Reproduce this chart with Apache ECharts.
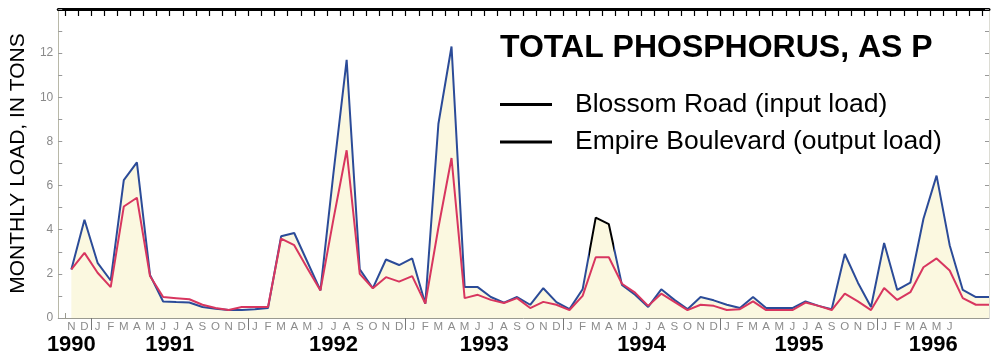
<!DOCTYPE html>
<html>
<head>
<meta charset="utf-8">
<title>Total phosphorus, as P</title>
<script src="https://cdn.jsdelivr.net/npm/echarts@6/dist/echarts.min.js"></script>
<style>
  html, body { margin: 0; padding: 0; background: #fff; }
  #main { width: 996px; height: 358px; }
</style>
</head>
<body>
<div id="main"></div>
<script>
// month index 0 = January 1991, data runs Nov 1990 .. Sep 1996
var monthLetters = ['J', 'F', 'M', 'A', 'M', 'J', 'J', 'A', 'S', 'O', 'N', 'D'];
var firstMonth = -2;      // Nov 1990
var lastLetterMonth = 65; // Jun 1996 is the last lettered month
var yearLabels = ['1990', '1991', '1992', '1993', '1994', '1995', '1996'];
var yearLabelAt = [-1.5, 6, 18.5, 30, 42, 54, 64.25];
var yearStarts = [0, 12, 24, 36, 48, 60];

// monthly load, in tons
var blossomRoad = [2.2, 4.45,
  2.5, 1.7, 6.25, 7.05, 1.95, 0.75, 0.72, 0.7, 0.5, 0.42, 0.36, 0.36,
  0.4, 0.45, 3.7, 3.85, 2.55, 1.25, 6.6, 11.7, 2.2, 1.35, 2.65, 2.4,
  2.7, 0.65, 8.8, 12.3, 1.4, 1.4, 0.95, 0.7, 0.95, 0.6, 1.35, 0.72,
  0.4, 1.3, 4.55, 4.25, 1.5, 1.05, 0.5, 1.3, 0.82, 0.4, 0.95, 0.8,
  0.6, 0.45, 0.95, 0.45, 0.45, 0.45, 0.75, 0.55, 0.4, 2.9, 1.6, 0.5,
  3.4, 1.27, 1.6, 4.5, 6.45, 3.3, 1.27, 0.95, 0.95];
var empireBlvd = [2.2, 2.95,
  2.05, 1.4, 5.05, 5.45, 1.9, 0.95, 0.9, 0.85, 0.6, 0.45, 0.36, 0.5,
  0.5, 0.5, 3.6, 3.3, 2.25, 1.25, 4.5, 7.6, 2.0, 1.35, 1.85, 1.65,
  1.9, 0.65, 4.1, 7.25, 0.9, 1.05, 0.82, 0.68, 0.9, 0.45, 0.73, 0.6,
  0.36, 1.0, 2.75, 2.75, 1.55, 1.15, 0.55, 1.1, 0.73, 0.36, 0.6, 0.55,
  0.36, 0.4, 0.75, 0.36, 0.36, 0.36, 0.7, 0.55, 0.36, 1.1, 0.75, 0.36,
  1.36, 0.82, 1.17, 2.3, 2.7, 2.15, 0.9, 0.6, 0.6];

var fontFam = "'Liberation Sans', Arial, sans-serif";
var xMin = firstMonth - 0.5;
var xMax = firstMonth + blossomRoad.length - 0.5;

var monthBounds = [];
var monthCenters = [];
for (var m = firstMonth; m <= firstMonth + blossomRoad.length; m++) {
  monthBounds.push(m);
  if (m <= lastLetterMonth) monthCenters.push(m + 0.5);
}

function toPoints(arr) {
  return arr.map(function (v, i) { return [firstMonth + i + 0.5, v]; });
}

var chartDom = document.getElementById('main');
var myChart = echarts.init(chartDom, null, { renderer: 'canvas' });

var option = {
  animation: false,
  textStyle: { fontFamily: fontFam },
  grid: { left: 54, right: 7, top: 9, bottom: 40 },
  title: {
    text: 'TOTAL PHOSPHORUS, AS P',
    left: 500, top: 32, padding: 0,
    textStyle: { fontSize: 32, fontWeight: 'bold', color: '#000', fontFamily: fontFam }
  },
  legend: {
    orient: 'vertical', left: 500, top: 91, padding: 0,
    icon: 'rect', itemWidth: 52, itemHeight: 3, itemGap: 10.5,
    selectedMode: false,
    textStyle: { fontSize: 26.5, color: '#000', fontFamily: fontFam, padding: [0, 0, 0, 18] },
    data: [
      { name: 'Blossom Road (input load)', itemStyle: { color: '#000' } },
      { name: 'Empire Boulevard (output load)', itemStyle: { color: '#000' } }
    ]
  },
  visualMap: {
    show: false, type: 'piecewise', seriesIndex: 0, dimension: 0,
    pieces: [
      { lt: 38, color: '#2b4b98' },
      { gte: 38, lt: 39.9, color: '#000000' },
      { gte: 39.9, color: '#2b4b98' }
    ]
  },
  xAxis: [
    {
      type: 'value', min: xMin, max: xMax, position: 'bottom',
      axisLine: { show: true, onZero: false, lineStyle: { color: '#9a9a90', width: 1 } },
      axisTick: { show: true, inside: true, length: 5, customValues: monthBounds,
        lineStyle: { color: '#9a9a90' } },
      axisLabel: {
        customValues: monthCenters, margin: 3, fontSize: 11.5, color: '#8c8c8c',
        formatter: function (v) {
          var k = Math.floor(v);
          return monthLetters[((k % 12) + 12) % 12];
        }
      },
      splitLine: { show: false }
    },
    {
      type: 'value', min: xMin, max: xMax, position: 'bottom',
      axisLine: { show: false, onZero: false },
      axisTick: { show: true, inside: false, length: 12, customValues: yearStarts,
        lineStyle: { color: '#777' } },
      axisLabel: {
        customValues: yearLabelAt, margin: 16, fontSize: 22, fontWeight: 'bold', color: '#000',
        formatter: function (v) {
          var i = yearLabelAt.indexOf(v);
          return i >= 0 ? yearLabels[i] : '';
        }
      },
      splitLine: { show: false }
    },
    {
      type: 'value', min: xMin, max: xMax, position: 'top',
      axisLine: { show: true, onZero: false, lineStyle: { color: '#000', width: 3 } },
      axisTick: { show: true, inside: true, length: 7, customValues: monthBounds,
        lineStyle: { color: '#000', width: 1.2 } },
      axisLabel: { show: false },
      splitLine: { show: false }
    }
  ],
  yAxis: [
    {
      type: 'value', min: 0, max: 14, interval: 1, position: 'left',
      name: 'MONTHLY LOAD, IN TONS', nameLocation: 'middle', nameGap: 14,
      nameTextStyle: { fontSize: 21, color: '#000', fontFamily: fontFam },
      axisLine: { show: true, onZero: false, lineStyle: { color: '#b8b8a8' } },
      axisTick: { show: true, inside: true, length: 4, lineStyle: { color: '#999' } },
      axisLabel: {
        margin: 5, fontSize: 12, color: '#8a8a8a',
        formatter: function (v) { return (v % 2 === 0 && v <= 12) ? String(v) : ''; }
      },
      splitLine: { show: false }
    },
    {
      type: 'value', min: 0, max: 14, interval: 1, position: 'right',
      axisLine: { show: true, onZero: false, lineStyle: { color: '#dcdcd4' } },
      axisTick: { show: true, inside: true, length: 4, lineStyle: { color: '#999' } },
      axisLabel: { show: false },
      splitLine: { show: false }
    }
  ],
  series: [
    {
      name: 'Blossom Road (input load)',
      type: 'line',
      showSymbol: false,
      lineStyle: { width: 2 },
      areaStyle: { color: '#fbf8e0', opacity: 1 },
      data: toPoints(blossomRoad)
    },
    {
      name: 'Empire Boulevard (output load)',
      type: 'line',
      showSymbol: false,
      itemStyle: { color: '#d8365f' },
      lineStyle: { width: 2, color: '#d8365f' },
      data: toPoints(empireBlvd)
    }
  ]
};

option && myChart.setOption(option, true);
</script>
</body>
</html>
